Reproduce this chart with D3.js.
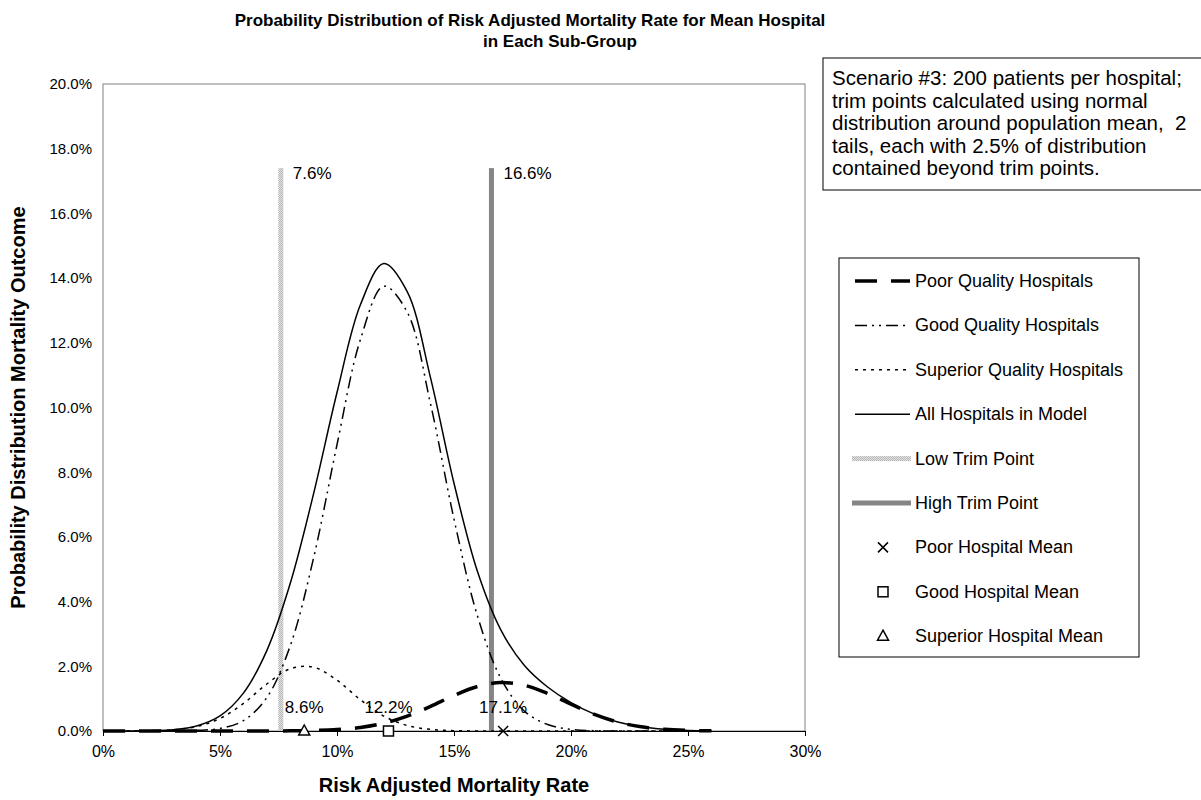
<!DOCTYPE html>
<html><head><meta charset="utf-8">
<script src="https://cdn.jsdelivr.net/npm/d3@7"></script>
<style>body{margin:0;background:#fff}svg{display:block;font-family:"Liberation Sans",Arial,sans-serif}</style>
</head><body><div id="chart"></div>
<script>
// risk adjusted mortality rate (%), one point per 1%
const rates=[0,1,2,3,4,5,6,7,8,9,10,11,12,13,14,15,16,17,18,19,20,21,22,23,24,25,26];
const poorVals=[0,0,0,0,0,0,0,0.001,0.004,0.015,0.043,0.109,0.239,0.458,0.761,1.098,1.375,1.497,1.415,1.161,0.828,0.512,0.275,0.129,0.052,0.018,0.006];
const goodVals=[0,0,0.001,0.004,0.02,0.08,0.32,1.03,2.63,5.35,8.85,12.1,13.75,12.95,10.1,6.55,3.56,1.63,0.62,0.2,0.05,0.01,0.002,0,0,0,0];
const superiorVals=[0,0.001,0.008,0.037,0.136,0.387,0.851,1.453,1.923,1.972,1.569,0.967,0.462,0.171,0.049,0.011,0.002,0,0,0,0,0,0,0,0,0,0];
const allVals=[0,0.001,0.009,0.041,0.156,0.467,1.171,2.484,4.557,7.337,10.462,13.176,14.451,13.579,10.91,7.659,4.937,3.127,2.035,1.361,0.878,0.522,0.277,0.129,0.052,0.018,0.006];
const trimPoints=[7.6,16.6];
const trimTop=17.4;
const means=[{name:"Poor Hospital Mean",v:17.1,sym:"x"},{name:"Good Hospital Mean",v:12.2,sym:"sq"},{name:"Superior Hospital Mean",v:8.6,sym:"tri"}];
const xTicks=[0,5,10,15,20,25,30];
const yTicks=[0,2,4,6,8,10,12,14,16,18,20];
const noteLines=["Scenario #3: 200 patients per hospital;","trim points calculated using normal","distribution around population mean,  2","tails, each with 2.5% of distribution","contained beyond trim points."];

const W=1201,H=800;
const pl=103,pr=805,pt=84,pb=731;
const svg=d3.select("#chart").append("svg").attr("width",W).attr("height",H);
const x=d3.scaleLinear().domain([0,30]).range([pl,pr]);
const y=d3.scaleLinear().domain([0,20]).range([pb,pt]);

// stippled light grey for the low trim point
const pat=svg.append("defs").append("pattern").attr("id","stip").attr("patternUnits","userSpaceOnUse")
  .attr("width",2).attr("height",2);
pat.append("rect").attr("width",2).attr("height",2).attr("fill","#e4e4e4");
pat.append("rect").attr("width",1).attr("height",1).attr("fill","#b4b4b4");
pat.append("rect").attr("x",1).attr("y",1).attr("width",1).attr("height",1).attr("fill","#b4b4b4");

svg.append("text").attr("x",530).attr("y",26).attr("text-anchor","middle")
  .attr("font-size",17).attr("font-weight","bold")
  .text("Probability Distribution of Risk Adjusted Mortality Rate for Mean Hospital");
svg.append("text").attr("x",560).attr("y",47).attr("text-anchor","middle")
  .attr("font-size",17).attr("font-weight","bold").text("in Each Sub-Group");

svg.append("rect").attr("x",pl).attr("y",pt).attr("width",pr-pl).attr("height",pb-pt)
  .attr("fill","none").attr("stroke","#808080");

svg.append("g").attr("transform",`translate(0,${pb})`)
  .call(d3.axisBottom(x).tickValues(xTicks).tickFormat(d=>d+"%").tickSizeInner(5).tickSizeOuter(0).tickPadding(10))
  .call(s=>s.select(".domain").attr("stroke","#000"))
  .call(s=>s.selectAll("line").attr("stroke","#000"))
  .call(s=>s.selectAll("text").attr("font-size",16).attr("fill","#000").attr("font-family","Liberation Sans, Arial"));
svg.append("g").attr("transform",`translate(${pl},0)`)
  .call(d3.axisLeft(y).tickValues(yTicks).tickFormat(d=>d.toFixed(1)+"%").tickSize(0).tickPadding(11))
  .call(s=>s.select(".domain").remove())
  .call(s=>s.selectAll("text").attr("font-size",15).attr("fill","#000").attr("font-family","Liberation Sans, Arial"));

svg.append("text").attr("x",(pl+pr)/2).attr("y",792).attr("text-anchor","middle")
  .attr("font-size",20).attr("font-weight","bold").text("Risk Adjusted Mortality Rate");
svg.append("text").attr("transform",`translate(25,${(pt+pb)/2}) rotate(-90)`).attr("text-anchor","middle")
  .attr("font-size",20).attr("font-weight","bold").text("Probability Distribution Mortality Outcome");

const plot=svg.append("g");
plot.append("clipPath").attr("id","clip").append("rect").attr("x",pl).attr("y",pt-2).attr("width",pr-pl).attr("height",pb-pt+4);
const lines=plot.append("g").attr("clip-path","url(#clip)");

const series=[
  {name:"Poor Quality Hospitals",vals:poorVals,w:3.5,dash:"22,14"},
  {name:"Good Quality Hospitals",vals:goodVals,w:1.5,dash:"12,5,2,5,2,5"},
  {name:"Superior Quality Hospitals",vals:superiorVals,w:1.5,dash:"3,5"},
  {name:"All Hospitals in Model",vals:allVals,w:1.5,dash:null}
];
const trims=[
  {name:"Low Trim Point",v:trimPoints[0],c:"url(#stip)"},
  {name:"High Trim Point",v:trimPoints[1],c:"#858585"}
];

trims.forEach(t=>{
  lines.append("rect").attr("x",x(t.v)-2.5).attr("width",5).attr("y",y(trimTop)).attr("height",y(0)-y(trimTop))
    .attr("fill",t.c);
  svg.append("text").attr("x",x(t.v)+12).attr("y",y(trimTop)+11).attr("font-size",17).text(t.v+"%");
});

const line=d3.line().x((d,i)=>x(rates[i])).y(d=>y(d)).curve(d3.curveCatmullRom.alpha(0.5));
series.forEach(s=>{
  lines.append("path").datum(s.vals).attr("fill","none").attr("stroke","#000")
    .attr("stroke-width",s.w).attr("stroke-dasharray",s.dash).attr("d",line);
});

function marker(g,sym,cx,cy){
  if(sym==="x"){
    g.append("path").attr("d",`M${cx-5},${cy-5}L${cx+5},${cy+5}M${cx-5},${cy+5}L${cx+5},${cy-5}`).attr("stroke","#000").attr("stroke-width",1.5);
  }else if(sym==="sq"){
    g.append("rect").attr("x",cx-5).attr("y",cy-5).attr("width",10).attr("height",10).attr("fill","#fff").attr("stroke","#000").attr("stroke-width",1.5);
  }else{
    g.append("path").attr("d",`M${cx},${cy-6}L${cx+5.5},${cy+4}L${cx-5.5},${cy+4}Z`).attr("fill","#fff").attr("stroke","#000").attr("stroke-width",1.5);
  }
}
means.forEach(m=>{
  marker(svg,m.sym,x(m.v),y(0));
  svg.append("text").attr("x",x(m.v)).attr("y",y(0)-18).attr("text-anchor","middle").attr("font-size",17).text(m.v+"%");
});

// note box
svg.append("rect").attr("x",823).attr("y",58).attr("width",400).attr("height",132)
  .attr("fill","#fff").attr("stroke","#000");
noteLines.forEach((t,i)=>svg.append("text").attr("x",832).attr("y",85+i*22.5).attr("font-size",20.5)
  .style("white-space","pre").text(t));

// legend
const lg=svg.append("g");
lg.append("rect").attr("x",839).attr("y",258).attr("width",300).attr("height",399)
  .attr("fill","#fff").attr("stroke","#000");
const entries=[...series.map(s=>({...s,type:"line"})),...trims.map(t=>({...t,type:"trim"})),...means.map(m=>({...m,type:"mark"}))];
entries.forEach((e,i)=>{
  const cy=281+i*44.4;
  if(e.type==="line"){
    lg.append("line").attr("x1",855).attr("x2",910).attr("y1",cy).attr("y2",cy).attr("stroke","#000")
      .attr("stroke-width",e.w).attr("stroke-dasharray",e.dash);
  }else if(e.type==="trim"){
    lg.append("rect").attr("x",852).attr("y",cy-2.5).attr("width",59).attr("height",5).attr("fill",e.c);
  }else{
    marker(lg,e.sym,883,cy);
  }
  lg.append("text").attr("x",915).attr("y",cy+6).attr("font-size",18).text(e.name);
});
</script></body></html>
